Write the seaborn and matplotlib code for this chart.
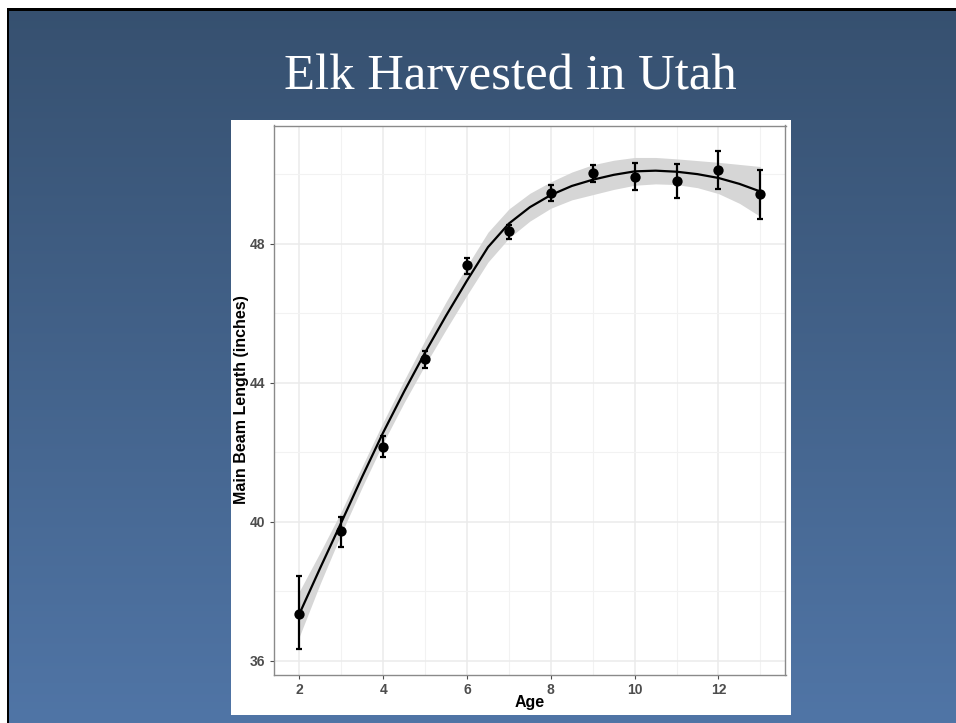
# Elk harvested in Utah - main beam length by age
import numpy as np
import pandas as pd
import matplotlib
matplotlib.use("Agg")
import matplotlib.pyplot as plt
from matplotlib.patches import Rectangle
import seaborn as sns

# point estimates with error bars
ages      = [2, 3, 4, 5, 6, 7, 8, 9, 10, 11, 12, 13]
beam_mean = [37.35, 39.73, 42.14, 44.67, 47.38, 48.35, 49.47, 50.03, 49.92, 49.80, 50.13, 49.42]
beam_lo   = [36.32, 39.28, 41.87, 44.43, 47.14, 48.14, 49.23, 49.78, 49.53, 49.31, 49.58, 48.70]
beam_hi   = [38.43, 40.14, 42.45, 44.92, 47.60, 48.55, 49.70, 50.26, 50.31, 50.28, 50.67, 50.13]

# smooth fit and ribbon half width
fit_age = [2, 2.5, 3, 3.5, 4, 4.5, 5, 5.5, 6, 6.5, 7, 7.5, 8, 8.5, 9, 9.5, 10, 10.5, 11, 11.5, 12, 12.5, 13]
fit_val = [37.35, 38.68, 39.98, 41.30, 42.57, 43.75, 44.87, 45.93, 46.94, 47.90, 48.58, 49.05,
           49.40, 49.66, 49.84, 49.98, 50.08, 50.10, 50.07, 50.00, 49.89, 49.72, 49.50]
fit_se  = [0.65, 0.45, 0.32, 0.30, 0.30, 0.32, 0.36, 0.40, 0.42, 0.43, 0.42, 0.40,
           0.38, 0.40, 0.43, 0.42, 0.40, 0.38, 0.37, 0.39, 0.45, 0.56, 0.72]

pts = pd.DataFrame({"Age": ages, "mean": beam_mean, "lo": beam_lo, "hi": beam_hi})
fit = pd.DataFrame({"Age": fit_age, "fit": fit_val, "se": fit_se})
fit["lower"] = fit["fit"] - fit["se"]
fit["upper"] = fit["fit"] + fit["se"]

sns.set_style("white")
plt.rcParams["font.family"] = ["Liberation Sans", "DejaVu Sans"]

W, H = 956, 723
fig = plt.figure(figsize=(W / 100, H / 100), dpi=100)

# slide background gradient
bg = fig.add_axes([0, 0, 1, 1], zorder=-10)
top = np.array([54, 80, 111]) / 255
bot = np.array([80, 117, 166]) / 255
t = np.linspace(0, 1, 256)[:, None]
grad = (top[None, :] * (1 - t) + bot[None, :] * t)[:, None, :]
bg.imshow(grad, aspect="auto", extent=[0, 1, 0, 1])
bg.set_xlim(0, 1)
bg.set_ylim(0, 1)
bg.axis("off")

def px_rect(x0, y0, x1, y1, color, z=-5):
    fig.patches.append(Rectangle((x0 / W, 1 - y1 / H), (x1 - x0) / W, (y1 - y0) / H,
                                 transform=fig.transFigure, facecolor=color,
                                 edgecolor="none", zorder=z))

# white margin + dark border of the slide
px_rect(0, 0, W, 8, "white")
px_rect(0, 0, 7, H, "white")
px_rect(7, 8, W, 11, "black")
px_rect(7, 8, 9, H, "black")

# white chart panel
px_rect(231, 120, 791, 715, "white", z=-4)

fig.text(510.5 / W, 1 - 77 / H, "Elk Harvested in Utah", ha="center", va="center",
         color="white", fontsize=36.5, family=["Liberation Serif", "DejaVu Serif"])

ax = fig.add_axes([273.5 / W, 1 - 674.5 / H, 512 / W, 549 / H])
ax.set_facecolor("white")

ax.fill_between(fit["Age"], fit["lower"], fit["upper"], color="#d6d6d6", lw=0, zorder=2)
sns.lineplot(data=fit, x="Age", y="fit", ax=ax, color="black", lw=1.6, zorder=3)
ax.errorbar(pts["Age"], pts["mean"],
            yerr=[pts["mean"] - pts["lo"], pts["hi"] - pts["mean"]],
            fmt="none", ecolor="black", elinewidth=1.6, capsize=2.5, capthick=1.6, zorder=4)
sns.scatterplot(data=pts, x="Age", y="mean", ax=ax, color="black", s=55,
                edgecolor="black", linewidth=0, zorder=5)

ax.set_xlim(1.38, 13.6)
ax.set_ylim(35.6, 51.4)
ax.set_xticks([2, 4, 6, 8, 10, 12])
ax.set_yticks([36, 40, 44, 48])
ax.set_xticks([3, 5, 7, 9, 11, 13], minor=True)
ax.set_yticks([38, 42, 46, 50], minor=True)
ax.grid(True, which="major", color="#ebebeb", lw=1.1, zorder=0)
ax.grid(True, which="minor", color="#f2f2f2", lw=0.8, zorder=0)
ax.set_axisbelow(True)
for s in ax.spines.values():
    s.set_color("#8a8a8a")
    s.set_linewidth(1.0)
ax.tick_params(which="major", length=3, width=0.8, color="#4d4d4d", labelsize=10,
               labelcolor="#4d4d4d", pad=3, left=True, bottom=True)
ax.tick_params(which="minor", length=0)
for lab in ax.get_xticklabels() + ax.get_yticklabels():
    lab.set_fontweight("bold")
ax.set_xlabel("Age", fontsize=11.5, fontweight="bold", color="black")
ax.set_ylabel("Main Beam Length (inches)", fontsize=11.5, fontweight="bold", color="black")
ax.yaxis.set_label_coords(-0.048, 0.5)
ax.xaxis.set_label_coords(0.5, -0.037)

fig.savefig("out.png", dpi=100)
